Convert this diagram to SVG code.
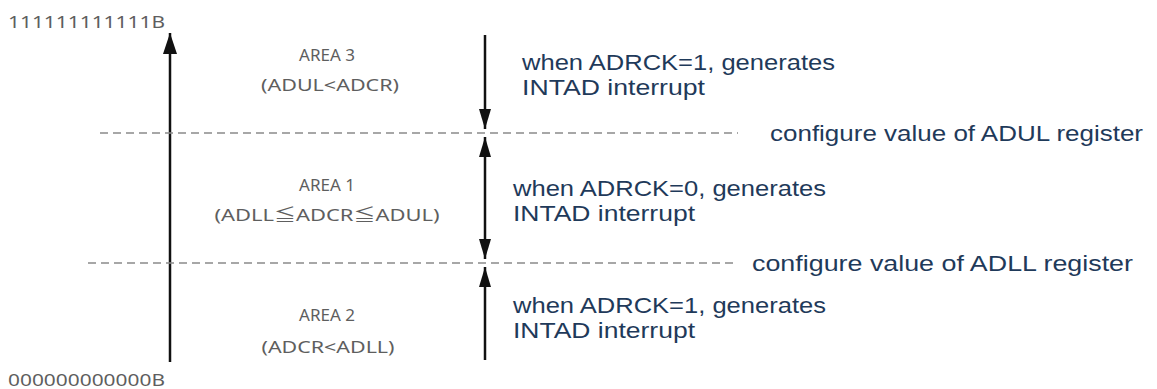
<svg xmlns="http://www.w3.org/2000/svg" width="1157" height="389" viewBox="0 0 1157 389">
<style>
.lbl{font-family:"Noto Sans","Noto Sans CJK SC",sans-serif;font-size:17px;fill:#5e5e5e;}
.area{font-family:"Noto Sans","Noto Sans CJK SC",sans-serif;font-size:17px;fill:#5e5e5e;text-anchor:middle;}
.note{font-family:"Liberation Sans",Arial,sans-serif;font-size:22px;fill:#1f3a5a;}
.dash{stroke:#8a8a8a;stroke-width:1.6;stroke-dasharray:8 5;fill:none;}
.arr{stroke:#111;stroke-width:2.5;fill:none;}
</style>
<defs>
<marker id="head" viewBox="0 0 20 12" refX="20" refY="6" markerWidth="20" markerHeight="12" markerUnits="userSpaceOnUse" orient="auto-start-reverse">
<path d="M0,0 L20,6 L0,12 Z" fill="#111"/>
</marker>
<marker id="headL" viewBox="0 0 21 14" refX="21" refY="7" markerWidth="21" markerHeight="14" markerUnits="userSpaceOnUse" orient="auto-start-reverse">
<path d="M0,0 L21,7 L0,14 Z" fill="#111"/>
</marker>
</defs>
<g id="connectors">
<line id="axis" class="arr" x1="170" y1="362" x2="170" y2="33" marker-end="url(#headL)"/>
<line id="dash-adul" class="dash" x1="100" y1="133" x2="738" y2="133"/>
<line id="dash-adll" class="dash" x1="88" y1="263" x2="735" y2="263"/>
<line id="arrow-area3" class="arr" x1="485" y1="35" x2="485" y2="129" marker-end="url(#head)"/>
<line id="arrow-area1" class="arr" x1="485" y1="137" x2="485" y2="259" marker-start="url(#head)" marker-end="url(#head)"/>
<line id="arrow-area2" class="arr" x1="485" y1="360" x2="485" y2="267" marker-end="url(#head)"/>
</g>
<g id="axis-labels">
<text class="lbl" x="8" y="28" textLength="157" lengthAdjust="spacingAndGlyphs">111111111111B</text>
<text class="lbl" x="8" y="386" textLength="157" lengthAdjust="spacingAndGlyphs">000000000000B</text>
</g>
<g id="area3">
<text class="area" x="327" y="61">AREA 3</text>
<text class="area" x="330" y="91" textLength="138" lengthAdjust="spacingAndGlyphs">(ADUL&lt;ADCR)</text>
</g>
<g id="area1">
<text class="area" x="327" y="191">AREA 1</text>
<text class="area" x="327" y="221" textLength="225" lengthAdjust="spacingAndGlyphs">(ADLL≦ADCR≦ADUL)</text>
</g>
<g id="area2">
<text class="area" x="327" y="321">AREA 2</text>
<text class="area" x="328" y="353" textLength="133" lengthAdjust="spacingAndGlyphs">(ADCR&lt;ADLL)</text>
</g>
<g id="note-area3">
<text class="note" x="522" y="70" textLength="313" lengthAdjust="spacingAndGlyphs">when ADRCK=1, generates</text>
<text class="note" x="522" y="95" textLength="183" lengthAdjust="spacingAndGlyphs">INTAD interrupt</text>
</g>
<g id="note-adul">
<text class="note" x="770" y="141" textLength="373" lengthAdjust="spacingAndGlyphs">configure value of ADUL register</text>
</g>
<g id="note-area1">
<text class="note" x="513" y="196" textLength="313" lengthAdjust="spacingAndGlyphs">when ADRCK=0, generates</text>
<text class="note" x="513" y="221" textLength="182" lengthAdjust="spacingAndGlyphs">INTAD interrupt</text>
</g>
<g id="note-adll">
<text class="note" x="752" y="271" textLength="381" lengthAdjust="spacingAndGlyphs">configure value of ADLL register</text>
</g>
<g id="note-area2">
<text class="note" x="513" y="313" textLength="313" lengthAdjust="spacingAndGlyphs">when ADRCK=1, generates</text>
<text class="note" x="513" y="338" textLength="182" lengthAdjust="spacingAndGlyphs">INTAD interrupt</text>
</g>
</svg>
